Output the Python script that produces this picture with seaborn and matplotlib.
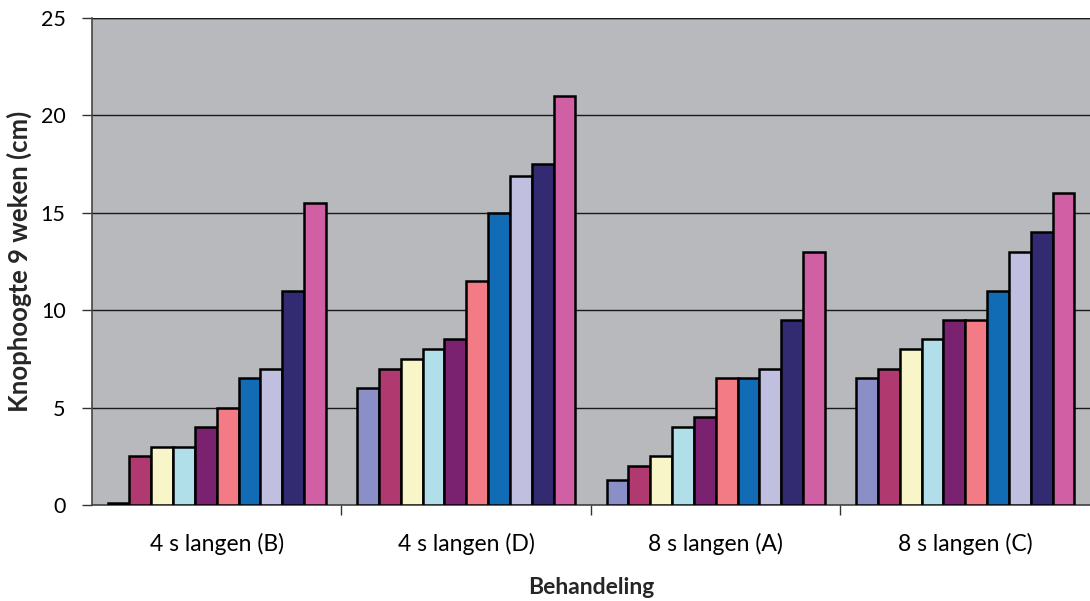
import matplotlib
matplotlib.use("Agg")
import matplotlib.pyplot as plt
import seaborn as sns
import pandas as pd
import numpy as np

# Treatments on the x axis
groups = ["4 s langen (B)", "4 s langen (D)", "8 s langen (A)", "8 s langen (C)"]

# Ten plants per treatment, sorted by bud height (cm)
plant_ids = [f"P{i}" for i in range(1, 11)]
heights_4B = [0.1, 2.5, 3.0, 3.0, 4.0, 5.0, 6.5, 7.0, 11.0, 15.5]
heights_4D = [6.0, 7.0, 7.5, 8.0, 8.5, 11.5, 15.0, 16.9, 17.5, 21.0]
heights_8A = [1.3, 2.0, 2.5, 4.0, 4.5, 6.5, 6.5, 7.0, 9.5, 13.0]
heights_8C = [6.5, 7.0, 8.0, 8.5, 9.5, 9.5, 11.0, 13.0, 14.0, 16.0]

colors = ["#8b8fc8", "#b03a70", "#f8f6c8", "#b0dfe9", "#7a2170",
          "#f27b85", "#116bb5", "#c0bfdf", "#322b72", "#d060a3"]

rows = []
for g, vals in zip(groups, [heights_4B, heights_4D, heights_8A, heights_8C]):
    for p, v in zip(plant_ids, vals):
        rows.append({"Behandeling": g, "plant": p, "hoogte": v})
df = pd.DataFrame(rows)

sns.set_theme(style="white")
plt.rcParams["font.family"] = ["Lato", "DejaVu Sans"]

fig = plt.figure(figsize=(10.9, 6.01), dpi=100)
ax = fig.add_axes([0.0844, 0.1597, 0.9156, 0.8103])
ax.set_facecolor("#b8b9bc")

sns.barplot(data=df, x="Behandeling", y="hoogte", hue="plant",
            order=groups, hue_order=plant_ids, palette=colors, saturation=1,
            width=0.875, gap=0, edgecolor="black", linewidth=1.8,
            legend=False, ax=ax, zorder=3)

ax.set_ylim(0, 25)
ax.set_xlim(-0.5, 3.5)
ax.set_yticks([0, 5, 10, 15, 20, 25])
ax.yaxis.grid(True, color="#1a1a1a", linewidth=1.0, zorder=0)
ax.set_axisbelow(True)

# Category boundary ticks below the axis
ax.set_xticks([0.5, 1.5, 2.5], minor=True)
ax.tick_params(axis="x", which="major", length=0, pad=20, labelsize=16.5, colors="black")
ax.tick_params(axis="x", which="minor", length=7, width=1, color="#333333", direction="out", bottom=True)
ax.tick_params(axis="y", which="major", length=7, width=1, color="#333333", direction="out", left=True,
               labelsize=15.5, colors="black", pad=12)

for side in ["top", "right"]:
    ax.spines[side].set_visible(False)
ax.spines["left"].set_color("#444444")
ax.spines["left"].set_linewidth(1.2)
ax.spines["bottom"].set_color("#444444")
ax.spines["bottom"].set_linewidth(1.2)
ax.axhline(25, color="#1a1a1a", linewidth=1.0, zorder=1)

ax.set_ylabel("Knophoogte 9 weken (cm)", fontsize=18.5, fontweight="bold", labelpad=6)
ax.set_xlabel("Behandeling", fontsize=16.5, fontweight="bold", labelpad=16)

fig.savefig("out.png", dpi=100, facecolor="white")
